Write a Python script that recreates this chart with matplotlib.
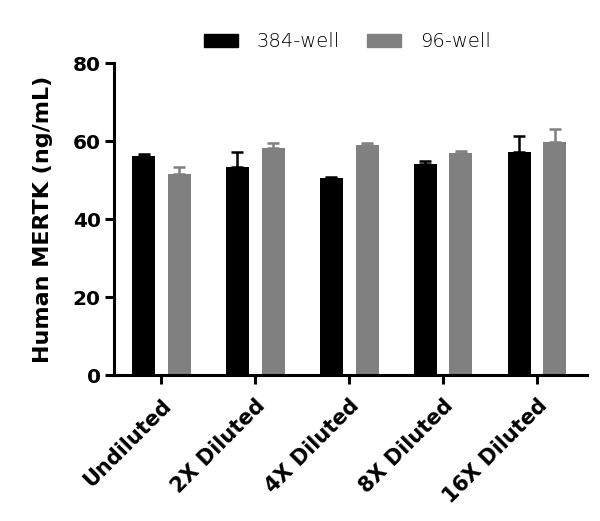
import numpy as np
import matplotlib
matplotlib.use("Agg")
import matplotlib.pyplot as plt
from matplotlib.patches import Patch

# ── DATA ──────────────────────────────────────────────────────────────────────
categories = ["Undiluted", "2X Diluted", "4X Diluted", "8X Diluted", "16X Diluted"]
well384_mean = [56.2, 53.3, 50.5, 54.1, 57.2]
well384_err = [0.5, 3.8, 0.4, 0.8, 4.0]
well96_mean = [51.6, 58.3, 59.0, 56.9, 59.7]
well96_err = [1.8, 1.1, 0.5, 0.6, 3.4]

BLACK = "#000000"
GRAY = "#808080"

fig = plt.figure(figsize=(6.0, 5.21), dpi=100)
ax = fig.add_axes([0.19, 0.28, 0.788, 0.599])

x = np.arange(len(categories))
w = 0.245
off = 0.19

ax.bar(x - off, well384_mean, w, color=BLACK, zorder=2)
ax.bar(x + off, well96_mean, w, color=GRAY, zorder=2)
# upper-only error bars
ax.errorbar(x - off, well384_mean, yerr=[np.zeros(5), well384_err], fmt="none",
            ecolor=BLACK, elinewidth=1.8, capsize=4, capthick=1.8, zorder=1)
ax.errorbar(x + off, well96_mean, yerr=[np.zeros(5), well96_err], fmt="none",
            ecolor=GRAY, elinewidth=1.8, capsize=4, capthick=1.8, zorder=1)

ax.set_xlim(-0.505, 4.53)
ax.set_ylim(0, 80)
ax.set_yticks([0, 20, 40, 60, 80])
ax.set_xticks(x)
ax.set_xticklabels(categories, rotation=45, ha="right", rotation_mode="anchor",
                   fontsize=15, fontweight="bold")
for lab in ax.get_yticklabels():
    lab.set_fontsize(14.5)
    lab.set_fontweight("bold")

for s in ["top", "right"]:
    ax.spines[s].set_visible(False)
for s in ["left", "bottom"]:
    ax.spines[s].set_linewidth(2.2)
ax.tick_params(axis="both", width=2.2, length=6.5, direction="out", pad=3)
ax.tick_params(axis="x", pad=8)

ax.set_ylabel("Human MERTK (ng/mL)", fontsize=16, fontweight="bold",
              labelpad=14)

handles = [Patch(color=BLACK), Patch(color=GRAY)]
fig.legend(handles, ["384-well", "96-well"], loc="center",
           bbox_to_anchor=(0.579, 0.92), ncol=2, frameon=False,
           prop={"size": 14, "weight": "light"}, handlelength=1.75,
           handleheight=0.65, columnspacing=1.4, handletextpad=0.95)

fig.savefig("out.png", dpi=100)
